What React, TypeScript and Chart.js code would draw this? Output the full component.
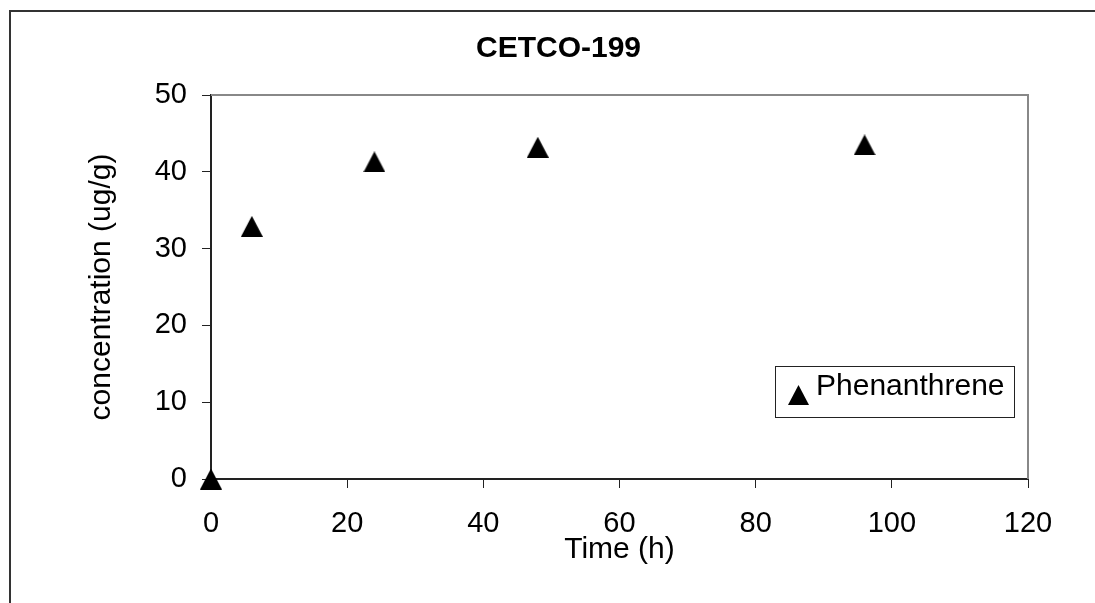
import React, { useEffect, useRef } from "react";
import { Chart, registerables } from "chart.js";

Chart.register(...registerables);

// ---- data ----
const chartTitle = "CETCO-199";
const seriesLabel = "Phenanthrene";
const timeHours = [0, 6, 24, 48, 96];
const phenanthreneConc = [0, 32.9, 41.3, 43.2, 43.5];
const xAxisTitle = "Time (h)";
const yAxisTitle = "concentration (ug/g)";
const xTickRange = [0, 120, 20]; // min, max, step
const yTickRange = [0, 50, 10]; // min, max, step

const FONT = "'Liberation Sans', Arial, Helvetica, sans-serif";
const CANVAS_W = 1117;
const CANVAS_H = 603;

function makeTriangle(w: number, h: number): HTMLCanvasElement {
  const c = document.createElement("canvas");
  c.width = w;
  c.height = h;
  const ctx = c.getContext("2d")!;
  ctx.fillStyle = "#000";
  ctx.beginPath();
  ctx.moveTo(w / 2, 0);
  ctx.lineTo(w, h);
  ctx.lineTo(0, h);
  ctx.closePath();
  ctx.fill();
  return c;
}

export default function App() {
  const ref = useRef<HTMLCanvasElement | null>(null);

  useEffect(() => {
    if (!ref.current) return;
    Chart.defaults.font.family = FONT;
    Chart.defaults.color = "#000";

    const marker = makeTriangle(22, 21);
    const legendMarker = makeTriangle(21, 20);

    const outerFramePlugin = {
      id: "outerFrame",
      beforeDraw(chart: any) {
        const { ctx, width, height } = chart;
        ctx.save();
        ctx.strokeStyle = "#333";
        ctx.lineWidth = 2;
        ctx.beginPath();
        ctx.moveTo(10, height + 5);
        ctx.lineTo(10, 11);
        ctx.lineTo(width + 5, 11);
        ctx.stroke();
        ctx.restore();
      },
    };

    const framePlugin = {
      id: "frame",
      beforeDatasetsDraw(chart: any) {
        const { ctx, chartArea: a } = chart;
        ctx.save();
        ctx.strokeStyle = "#888";
        ctx.lineWidth = 2;
        ctx.beginPath();
        ctx.moveTo(a.left, a.top);
        ctx.lineTo(a.right, a.top);
        ctx.lineTo(a.right, a.bottom);
        ctx.stroke();
        ctx.restore();
      },
    };

    const boxLegendPlugin = {
      id: "boxLegend",
      afterDatasetsDraw(chart: any) {
        const { ctx } = chart;
        const ds = chart.data.datasets[0];
        const bx = 775, by = 366, bw = 239, bh = 51;
        ctx.save();
        ctx.fillStyle = "#fff";
        ctx.fillRect(bx, by, bw, bh);
        ctx.strokeStyle = "#222";
        ctx.lineWidth = 1;
        ctx.strokeRect(bx + 0.5, by + 0.5, bw, bh);
        ctx.drawImage(legendMarker, 788, 385);
        ctx.fillStyle = "#000";
        ctx.font = `30px ${FONT}`;
        ctx.textBaseline = "middle";
        ctx.textAlign = "left";
        ctx.fillText(ds.label, 816, 387);
        ctx.restore();
      },
    };

    const chart = new Chart(ref.current, {
      type: "scatter",
      data: {
        datasets: [
          {
            label: seriesLabel,
            data: timeHours.map((t, i) => ({ x: t, y: phenanthreneConc[i] })),
            pointStyle: marker as any,
            pointRadius: 11,
            showLine: false,
            clip: false as any,
          },
        ],
      },
      options: {
        animation: false,
        responsive: false,
        layout: { padding: 0 },
        plugins: {
          legend: { display: false },
          tooltip: { enabled: false },
          title: {
            display: true,
            text: chartTitle,
            color: "#000",
            font: { size: 30, weight: "bold", family: FONT },
            padding: { top: 30.5, bottom: 28.5 },
          },
        },
        scales: {
          x: {
            type: "linear",
            position: "bottom",
            min: xTickRange[0],
            max: xTickRange[1],
            ticks: {
              stepSize: xTickRange[2],
              font: { size: 29, family: FONT },
              color: "#000",
              padding: 18.5,
              maxRotation: 0,
            },
            grid: {
              drawOnChartArea: false,
              drawTicks: true,
              tickLength: 9,
              tickColor: "#222",
              tickWidth: 1,
            },
            border: { display: true, color: "#222", width: 2 },
            title: {
              display: true,
              text: xAxisTitle,
              color: "#000",
              font: { size: 30, family: FONT },
              padding: { top: 0, bottom: 35.5 },
            },
            afterFit(scale: any) {
              scale.height = 124;
            },
          },
          y: {
            type: "linear",
            position: "left",
            min: yTickRange[0],
            max: yTickRange[1],
            ticks: {
              stepSize: yTickRange[2],
              font: { size: 29, family: FONT },
              color: "#000",
              padding: 15,
            },
            grid: {
              drawOnChartArea: false,
              drawTicks: true,
              tickLength: 9,
              tickColor: "#222",
              tickWidth: 1,
            },
            border: { display: true, color: "#222", width: 2 },
            title: {
              display: true,
              text: yAxisTitle,
              color: "#000",
              font: { size: 30, family: FONT },
              padding: { top: 83.6, bottom: 0 },
            },
            afterFit(scale: any) {
              scale.width = 211;
            },
          },
          yRight: {
            type: "linear",
            position: "right",
            min: yTickRange[0],
            max: yTickRange[1],
            ticks: { display: false },
            grid: { display: false, drawTicks: false },
            border: { display: false },
            afterFit(scale: any) {
              scale.width = CANVAS_W - 1028;
            },
          },
        },
      },
      plugins: [outerFramePlugin, framePlugin, boxLegendPlugin],
    });

    return () => chart.destroy();
  }, []);

  return (
    <div
      style={{
        position: "fixed",
        left: 0,
        top: 0,
        width: 1095,
        height: 603,
        overflow: "hidden",
        background: "#fff",
      }}
    >
      <canvas
        ref={ref}
        width={CANVAS_W}
        height={CANVAS_H}
        style={{ position: "absolute", left: 0, top: 0, width: CANVAS_W, height: CANVAS_H }}
      />
    </div>
  );
}
